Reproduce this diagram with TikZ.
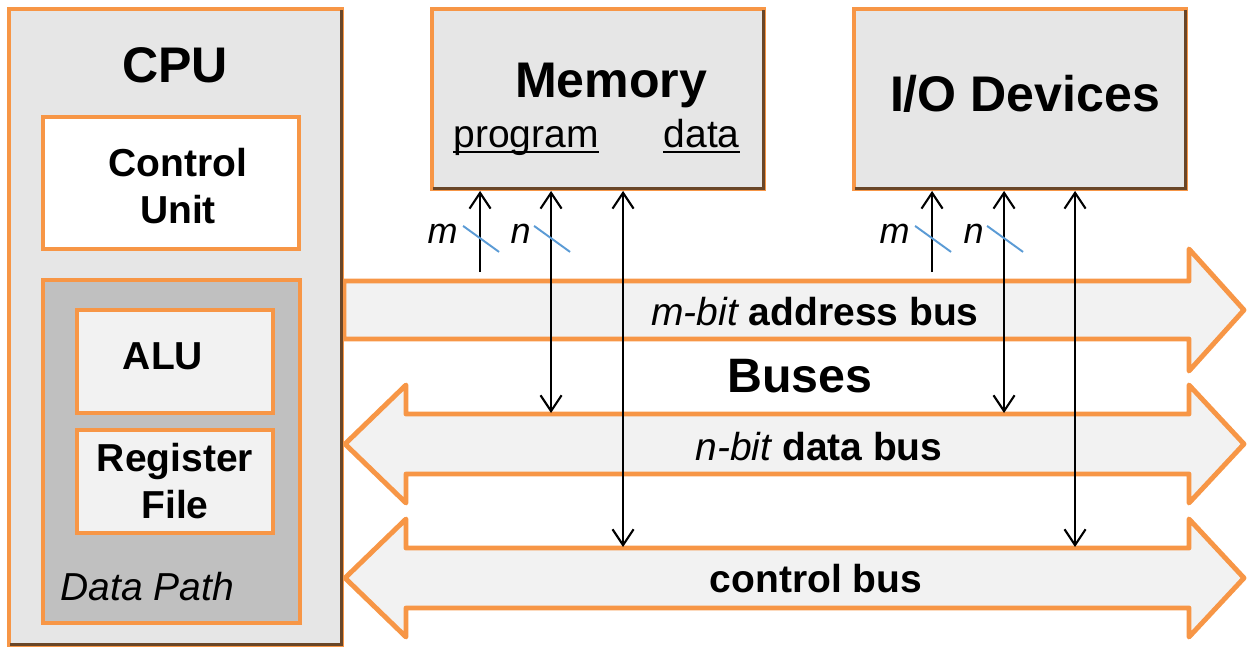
\documentclass[tikz,border=0pt]{standalone}
\usepackage{fontspec}
\setmainfont{Liberation Sans}
\usetikzlibrary{arrows.meta,calc}

\definecolor{busorange}{RGB}{247,150,70}
\definecolor{boxgray}{RGB}{230,230,230}
\definecolor{pathgray}{RGB}{192,192,192}
\definecolor{busfill}{RGB}{242,242,242}
\definecolor{bevelbrown}{RGB}{105,70,40}
\definecolor{slashblue}{RGB}{91,155,213}

\newcommand{\pxu}{0.02cm}
\newcommand{\bodyfont}{\fontsize{22.2pt}{26.7pt}\selectfont}
\newcommand{\titlefont}{\fontsize{28.5pt}{34pt}\selectfont\bfseries}

\tikzset{
  >={Straight Barb[length=9pt,width=12pt]},
  bus/.style={draw=busorange, fill=busfill, line width=2.8pt, line join=round},
  sig/.style={line width=1.2pt},
  slash/.style={draw=slashblue, line width=1.1pt},
  bevel/.style={draw=bevelbrown, line width=1.4pt},
  bitlbl/.style={font=\fontsize{20.5pt}{24pt}\selectfont\itshape, anchor=base east, inner sep=0pt},
}

\begin{document}
\begin{tikzpicture}[x=0.02cm, y=-0.02cm]
  \useasboundingbox (0,0) rectangle (1249,649);

  % buses
  \draw[bus] (344,281) -- (1189,281) -- (1189,249) -- (1244,310) -- (1189,371) -- (1189,339) -- (344,339) -- cycle;
  \draw[bus] (345,444) -- (406,385) -- (406,414) -- (1189,414) -- (1189,385) -- (1244,444)
             -- (1189,503) -- (1189,474) -- (406,474) -- (406,503) -- cycle;
  \draw[bus] (345,578) -- (406,519) -- (406,548) -- (1189,548) -- (1189,519) -- (1244,578)
             -- (1189,637) -- (1189,608) -- (406,608) -- (406,637) -- cycle;

  \begin{scope}[every node/.style={draw=busorange, line width=2.2pt, inner sep=0pt,
      font=\bodyfont\bfseries, align=center}]
    \node[fill=boxgray, minimum width=333*\pxu, minimum height=636*\pxu] (cpu) at (175.5,327) {};
    \node[fill=white, minimum width=256*\pxu, minimum height=132*\pxu] (ctrl) at (171,183) {};
    \node[fill=pathgray, minimum width=257*\pxu, minimum height=343*\pxu] (dpath) at (171.5,451.5) {};
    \node[fill=busfill, minimum width=196*\pxu, minimum height=103*\pxu] (alu) at (175,361.5) {};
    \node[fill=busfill, minimum width=196*\pxu, minimum height=103*\pxu] (regf) at (175,481.5) {Register\\File};
    \node[fill=boxgray, minimum width=332*\pxu, minimum height=180*\pxu] (mem) at (598,99) {};
    \node[fill=boxgray, minimum width=332*\pxu, minimum height=180*\pxu] (io) at (1020,99) {};
  \end{scope}

  \draw[bevel] ($(cpu.north east)+(-2.5,3)$) -- ($(cpu.south east)+(-2.5,-2.5)$) -- ($(cpu.south west)+(3,-2.5)$);
  \draw[bevel] ($(mem.north east)+(-2.5,3)$) -- ($(mem.south east)+(-2.5,-2.5)$) -- ($(mem.south west)+(3,-2.5)$);
  \draw[bevel] ($(io.north east)+(-2.5,3)$) -- ($(io.south east)+(-2.5,-2.5)$) -- ($(io.south west)+(3,-2.5)$);

  \begin{scope}[every node/.style={inner sep=0pt, anchor=base, font=\bodyfont\bfseries}]
    \node[font=\titlefont] (cputxt) at (175,82) {CPU};
    \node[align=center, anchor=center] (ctrltxt) at (178,186) {Control\\Unit};
    \node (alutxt) at (163,369) {ALU};
    \node[anchor=base west, font=\bodyfont\itshape] (dptxt) at (60,600) {Data Path};
    \node[font=\titlefont] (memtxt) at (611,97) {Memory};
    \node[anchor=base west, font=\bodyfont] (prog) at (453,147) {program};
    \node[anchor=base east, font=\bodyfont] (data) at (740,147) {data};
    \node[font=\titlefont] (iotxt) at (1025,112) {I/O Devices};
    \node[font=\fontsize{27.5pt}{33pt}\selectfont\bfseries] (buses) at (800,392) {Buses};
    \node (abustxt) at (815,325) {{\mdseries\itshape m-bit} address bus};
    \node (dbustxt) at (819,460) {{\mdseries\itshape n-bit} data bus};
    \node (cbustxt) at (816,592) {control bus};
  \end{scope}
  \draw[line width=1.2pt] ($(prog.base west)+(0,5)$) -- ($(prog.base east)+(0,5)$);
  \draw[line width=1.2pt] ($(data.base west)+(0,5)$) -- ($(data.base east)+(0,5)$);

  % connectors
  \coordinate (mA) at ($(mem.south west)+(50,0)$);
  \coordinate (mD) at ($(mem.south west)+(121,0)$);
  \coordinate (mC) at ($(mem.south west)+(193,0)$);
  \coordinate (iA) at ($(io.south west)+(80,0)$);
  \coordinate (iD) at ($(io.south west)+(152,0)$);
  \coordinate (iC) at ($(io.south west)+(223,0)$);
  \coordinate (aend) at (0,272);
  \coordinate (dbus) at (0,413);
  \coordinate (cbus) at (0,547);

  \draw[sig,->] (mA |- aend) -- (mA);
  \draw[sig,<->] (mD) -- (mD |- dbus);
  \draw[sig,<->] (mC) -- (mC |- cbus);
  \draw[sig,->] (iA |- aend) -- (iA);
  \draw[sig,<->] (iD) -- (iD |- dbus);
  \draw[sig,<->] (iC) -- (iC |- cbus);

  \draw[slash] ($(mA)+(-17,35)$) -- ++(36,26);
  \draw[slash] ($(mD)+(-17,35)$) -- ++(36,26);
  \draw[slash] ($(iA)+(-17,35)$) -- ++(36,26);
  \draw[slash] ($(iD)+(-17,35)$) -- ++(36,26);
  \node[bitlbl] (mlbl1) at ($(mA)+(-22,53)$) {m};
  \node[bitlbl] (nlbl1) at ($(mD)+(-20,53)$) {n};
  \node[bitlbl] (mlbl2) at ($(iA)+(-22,53)$) {m};
  \node[bitlbl] (nlbl2) at ($(iD)+(-20,53)$) {n};
\end{tikzpicture}
\end{document}
